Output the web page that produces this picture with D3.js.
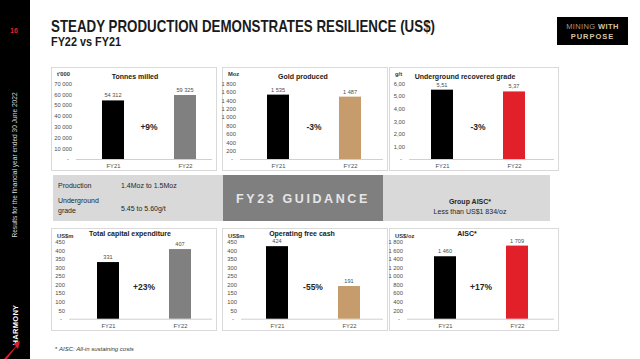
<!DOCTYPE html>
<html><head><meta charset="utf-8">
<script src="https://cdn.jsdelivr.net/npm/d3@7"></script>
<style>
html,body{margin:0;padding:0;background:#fff;}
svg{display:block;font-family:"Liberation Sans",Arial,sans-serif;}
</style></head>
<body>
<svg id="c" width="640" height="359"></svg>
<script>
// ---------- DATA ----------
const categories = ["FY21", "FY22"];
const tonnesMilled = [54312, 59325];
const goldProduced = [1535, 1487];
const ugGrade = [5.51, 5.37];
const capex = [331, 407];
const opFreeCash = [424, 191];
const aisc = [1460, 1709];
const seriesList = [tonnesMilled, goldProduced, ugGrade, capex, opFreeCash, aisc];
const panelTitles = ["Tonnes milled", "Gold produced", "Underground recovered grade",
                     "Total capital expenditure", "Operating free cash", "AISC*"];
const unitLabels = ["t'000", "Moz", "g/t", "US$m", "US$m", "US$/oz"];
const changeLabels = ["+9%", "-3%", "-3%", "+23%", "-55%", "+17%"];
const yMaxes = [70000, 1800, 6, 450, 450, 1800];
const yTickSteps = [10000, 200, 1, 50, 50, 200];
const fy22Colors = ["#808080", "#c69c6d", "#e2202a", "#808080", "#c69c6d", "#e2202a"];
const fy21Color = "#000000";
const guidanceLeftLabels = [["Production"], ["Underground", "grade"]];
const guidanceLeftValues = ["1.4Moz to 1.5Moz", "5.45 to 5.60g/t"];
const guidanceTitle = "FY23 GUIDANCE";
const guidanceRight = ["Group AISC*", "Less than US$1 834/oz"];

// ---------- LAYOUT ----------
const svg = d3.select("#c");
const loc = d3.formatLocale({decimal: ",", thousands: " ", grouping: [3], currency: ["", ""]});
const fmtInt = loc.format(",d");
const fmtDec = loc.format(",.2f");

// sidebar
svg.append("rect").attr("x", 0).attr("y", 0).attr("width", 30).attr("height", 359).attr("fill", "#000");
svg.append("text").attr("x", 14).attr("y", 33).attr("text-anchor", "middle")
  .attr("font-size", 7).attr("font-weight", "bold").attr("fill", "#e2202a").text("16");
svg.append("text").attr("transform", "translate(16.5,165) rotate(-90)").attr("text-anchor", "middle")
  .attr("font-size", 6.6).attr("fill", "#d8d8d8").text("Results for the financial year ended 30 June 2022");
svg.append("text").attr("transform", "translate(18,325) rotate(-90)").attr("text-anchor", "middle")
  .attr("font-size", 7.5).attr("font-weight", "bold").attr("fill", "#fff").attr("letter-spacing", 0.3).text("HARMONY");
svg.append("path").attr("d", "M4,359 L16,346 L13,344 L20,341 L18,349 L16,347 L7,359 Z").attr("fill", "#d6202a");

// header
svg.append("text").attr("x", 51).attr("y", 32).attr("font-family", "'Liberation Sans Narrow','Arial Narrow',sans-serif")
  .attr("font-size", 16.5).attr("font-weight", "bold").attr("fill", "#1a1a1a")
  .attr("textLength", 384).attr("lengthAdjust", "spacingAndGlyphs")
  .text("STEADY PRODUCTION DEMONSTRATES RESILIENCE (US$)");
svg.append("text").attr("x", 51).attr("y", 46).attr("font-family", "'Liberation Sans Narrow','Arial Narrow',sans-serif")
  .attr("font-size", 12).attr("font-weight", "bold").attr("fill", "#1a1a1a")
  .attr("textLength", 70).attr("lengthAdjust", "spacingAndGlyphs").text("FY22 vs FY21");
svg.append("rect").attr("x", 557).attr("y", 17).attr("width", 71).attr("height", 28).attr("fill", "#000");
const mw = svg.append("text").attr("x", 592.5).attr("y", 29).attr("text-anchor", "middle").attr("font-size", 7.5).attr("letter-spacing", 0.4);
mw.append("tspan").attr("fill", "#a89a86").text("MINING ");
mw.append("tspan").attr("fill", "#d8c6a2").attr("font-weight", "bold").text("WITH");
svg.append("text").attr("x", 592.5).attr("y", 39).attr("text-anchor", "middle").attr("font-size", 7.5)
  .attr("font-weight", "bold").attr("letter-spacing", 1).attr("fill", "#d8c6a2").text("PURPOSE");

// panels
const panelX = [[51, 216], [222, 387], [389, 558]];
const rows = [{y0: 67, y1: 170, top: 83.5, base: 159, unitY: 76, titleY: 78.5, catY: 167, chgY: 130},
              {y0: 228, y1: 330, top: 241.7, base: 318.7, unitY: 237.5, titleY: 236, catY: 327.5, chgY: 290}];
const plotStart = [26, 20, 17, 21, 19, 20];
const labelRight = [21, 14, 16, 14, 15, 14];
const titleOff = [84, 81, 76, 79, 80, 78];

seriesList.forEach((vals, i) => {
  const r = rows[Math.floor(i / 3)];
  const [x0, x1] = panelX[i % 3];
  const g = svg.append("g");
  g.append("rect").attr("x", x0 + 0.5).attr("y", r.y0 + 0.5).attr("width", x1 - x0).attr("height", r.y1 - r.y0)
    .attr("fill", "#fff").attr("stroke", "#d9d9d9").attr("stroke-width", 1);
  const y = d3.scaleLinear().domain([0, yMaxes[i]]).range([r.base, r.top]);
  const x = d3.scalePoint().domain(categories).range([x0 + plotStart[i], x0 + plotStart[i] + 144]).padding(0.5);
  const fmt = i === 2 ? fmtDec : fmtInt;
  const ticks = d3.range(0, yMaxes[i] + yTickSteps[i] / 2, yTickSteps[i]);
  const yAxis = d3.axisLeft(y).tickValues(ticks).tickSize(0).tickPadding(0)
    .tickFormat(d => d === 0 ? "-" : fmt(d));
  const ag = g.append("g").attr("transform", `translate(${x0 + labelRight[i]},0)`).call(yAxis);
  ag.select(".domain").remove();
  ag.selectAll("text").attr("font-size", 5.8).attr("fill", "#4d4d4d").attr("font-family", "'Liberation Sans',Arial,sans-serif")
    .attr("dx", (d) => d === 0 ? -3 : 0);
  // unit label
  g.append("text").attr("x", x0 + 6).attr("y", r.unitY).attr("font-size", 5.8).attr("font-weight", "bold")
    .attr("fill", "#333").text(unitLabels[i]);
  // baseline + category axis
  const xAxis = d3.axisBottom(x).tickSize(0).tickPadding(5);
  const xg = g.append("g").attr("transform", `translate(0,${r.base})`).call(xAxis);
  xg.select(".domain").remove();
  xg.selectAll("text").attr("font-size", 5.8).attr("fill", "#4d4d4d").attr("font-family", "'Liberation Sans',Arial,sans-serif");
  g.append("line").attr("x1", x0 + labelRight[i] + 4).attr("x2", x1 - 4).attr("y1", r.base + 0.5).attr("y2", r.base + 0.5)
    .attr("stroke", "#d0d0d0").attr("stroke-width", 1);
  // bars
  const bw = 22;
  g.selectAll("rect.bar").data(vals).enter().append("rect").attr("class", "bar")
    .attr("x", (d, j) => x(categories[j]) - bw / 2).attr("width", bw)
    .attr("y", d => y(d)).attr("height", d => r.base - y(d))
    .attr("fill", (d, j) => j === 0 ? fy21Color : fy22Colors[i]);
  g.selectAll("text.val").data(vals).enter().append("text").attr("class", "val")
    .attr("x", (d, j) => x(categories[j])).attr("y", d => y(d) - 3).attr("text-anchor", "middle")
    .attr("font-size", 5.6).attr("fill", "#4d4d4d").text(d => fmt(d));
  // title
  g.append("text").attr("x", x0 + titleOff[i]).attr("y", r.titleY).attr("text-anchor", "middle")
    .attr("font-size", 7).attr("font-weight", "bold").attr("fill", "#1a1a1a").text(panelTitles[i]);
  // change
  g.append("text").attr("x", (x(categories[0]) + x(categories[1])) / 2).attr("y", r.chgY).attr("text-anchor", "middle")
    .attr("font-size", 8.5).attr("font-weight", "bold").attr("fill", "#262626").text(changeLabels[i]);
});

// guidance band
const gb = {y0: 175, y1: 221};
svg.append("rect").attr("x", 53).attr("y", gb.y0).attr("width", 170).attr("height", gb.y1 - gb.y0).attr("fill", "#d9d9d9");
svg.append("rect").attr("x", 223).attr("y", gb.y0).attr("width", 160).attr("height", gb.y1 - gb.y0).attr("fill", "#7f7f7f");
svg.append("rect").attr("x", 383).attr("y", gb.y0).attr("width", 167).attr("height", gb.y1 - gb.y0).attr("fill", "#d9d9d9");
const leftYs = [[188], [203, 213]];
guidanceLeftLabels.forEach((lines, k) => {
  lines.forEach((t, m) => {
    svg.append("text").attr("x", 58).attr("y", leftYs[k][m]).attr("font-size", 7).attr("fill", "#262626").text(t);
  });
});
const valYs = [188, 211];
guidanceLeftValues.forEach((t, k) => {
  svg.append("text").attr("x", 121).attr("y", valYs[k]).attr("font-size", 7).attr("fill", "#262626").text(t);
});
svg.append("text").attr("x", 303).attr("y", 203).attr("text-anchor", "middle").attr("font-size", 12.5)
  .attr("font-weight", "bold").attr("letter-spacing", 2.6).attr("fill", "#e6e6e6").text(guidanceTitle);
svg.append("text").attr("x", 470).attr("y", 204).attr("text-anchor", "middle").attr("font-size", 7)
  .attr("font-weight", "bold").attr("fill", "#262626").text(guidanceRight[0]);
svg.append("text").attr("x", 470).attr("y", 214).attr("text-anchor", "middle").attr("font-size", 7)
  .attr("fill", "#262626").text(guidanceRight[1]);

// footnote
const fn = svg.append("text").attr("x", 55).attr("y", 351).attr("font-size", 6).attr("fill", "#333");
fn.append("tspan").text("* ");
fn.append("tspan").attr("font-style", "italic").text("AISC: All-in sustaining costs");
</script>
</body></html>
